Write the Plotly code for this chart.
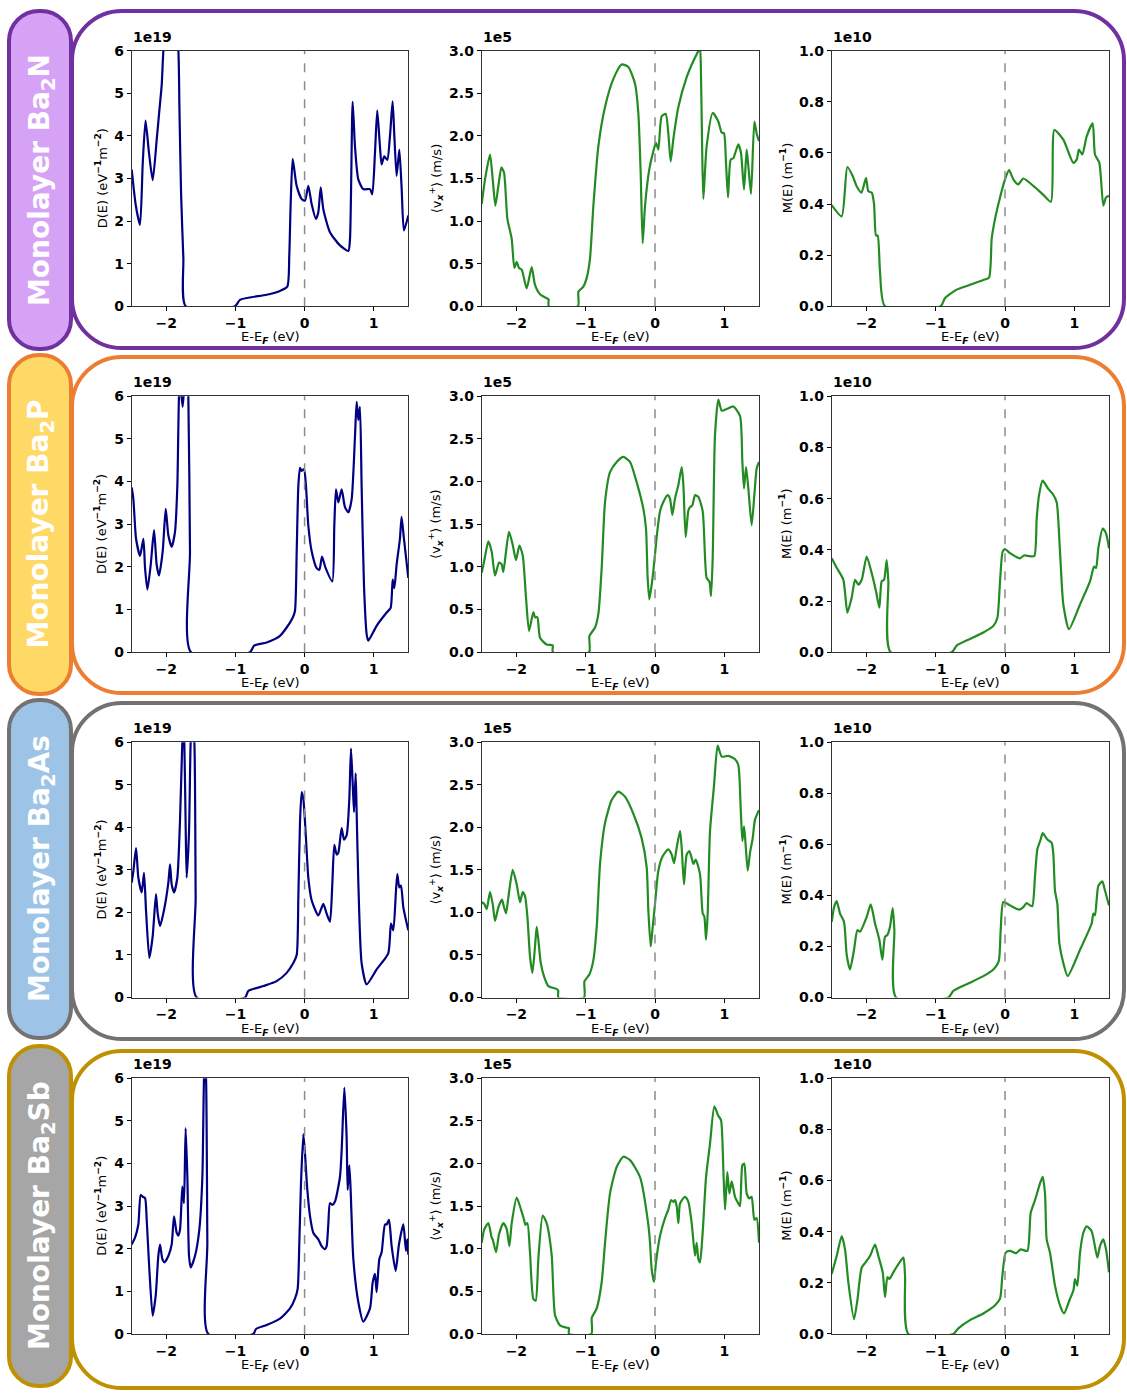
import plotly.graph_objects as go

W, H = 1127, 1399

# ---------------------------------------------------------------------------
# Data: (E - E_F [eV], value) pairs.
# DOS in units of 1e19 eV^-1 m^-2, <v_x^+> in 1e5 m/s, M(E) in 1e10 m^-1
# ---------------------------------------------------------------------------
materials = ["N", "P", "As", "Sb"]

dos_ba2n = [(-2.50, 3.21), (-2.44, 2.36), (-2.38, 1.91), (-2.34, 3.37), (-2.30, 4.36), (-2.25, 3.6),
            (-2.196, 2.96), (-2.139, 3.9), (-2.10, 4.6), (-2.066, 5.2), (-2.042, 6.0), (-1.93, 8.0),
            (-1.825, 6.0), (-1.81, 4.68), (-1.786, 2.66), (-1.753, 1.13), (-1.719, 0.0), (-1.006, 0.0),
            (-0.934, 0.15), (-0.549, 0.27), (-0.355, 0.36), (-0.25, 0.46), (-0.221, 1.2), (-0.202, 2.36),
            (-0.172, 3.46), (-0.115, 2.83), (-0.042, 2.52), (0.006, 2.48), (0.054, 2.83), (0.102, 2.4),
            (0.165, 2.05), (0.198, 2.2), (0.233, 2.79), (0.271, 2.28), (0.367, 1.74), (0.512, 1.43),
            (0.633, 1.3), (0.657, 1.59), (0.695, 4.8), (0.729, 3.75), (0.777, 2.98), (0.849, 2.75),
            (0.946, 2.75), (0.979, 2.63), (1.018, 3.6), (1.051, 4.6), (1.090, 3.75), (1.114, 3.33),
            (1.152, 3.52), (1.196, 3.44), (1.235, 4.0), (1.273, 4.81), (1.297, 4.05), (1.331, 3.06),
            (1.370, 3.68), (1.403, 2.8), (1.437, 1.78), (1.50, 2.13)]

vel_ba2n = [(-2.5, 1.2), (-2.452, 1.49), (-2.38, 1.78), (-2.341, 1.49), (-2.303, 1.18), (-2.26, 1.41),
            (-2.216, 1.63), (-2.178, 1.57), (-2.13, 1.03), (-2.067, 0.79), (-2.029, 0.45), (-1.995, 0.52),
            (-1.962, 0.45), (-1.923, 0.43), (-1.851, 0.21), (-1.779, 0.46), (-1.731, 0.25), (-1.659, 0.14),
            (-1.553, 0.09), (-1.535, 0.08), (-1.533, 0.0), (-1.111, 0.0), (-1.105, 0.17), (-1.034, 0.23),
            (-0.986, 0.33), (-0.938, 0.56), (-0.889, 1.18), (-0.817, 1.88), (-0.721, 2.34), (-0.601, 2.67),
            (-0.481, 2.84), (-0.385, 2.81), (-0.288, 2.61), (-0.24, 2.26), (-0.207, 1.57), (-0.178, 0.74),
            (-0.144, 1.18), (-0.082, 1.61), (-0.024, 1.82), (0.014, 1.92), (0.048, 1.84), (0.096, 2.23),
            (0.154, 2.26), (0.192, 2.03), (0.226, 1.70), (0.264, 1.96), (0.337, 2.34), (0.457, 2.69),
            (0.553, 2.88), (0.625, 3.0), (0.649, 3.04), (0.663, 2.73), (0.678, 1.96), (0.697, 1.26),
            (0.745, 1.88), (0.832, 2.27), (0.913, 2.17), (0.962, 2.04), (0.995, 2.03), (1.024, 1.68),
            (1.053, 1.28), (1.091, 1.72), (1.13, 1.74), (1.202, 1.90), (1.24, 1.80), (1.284, 1.37),
            (1.322, 1.84), (1.346, 1.65), (1.385, 1.32), (1.433, 2.17), (1.466, 2.03), (1.5, 1.94)]

modes_ba2n = [(-2.5, 0.396), (-2.356, 0.352), (-2.274, 0.545), (-2.197, 0.51), (-2.14, 0.47), (-2.07, 0.445),
              (-2.005, 0.503), (-1.971, 0.45), (-1.923, 0.445), (-1.889, 0.40), (-1.861, 0.277),
              (-1.837, 0.277), (-1.803, 0.135), (-1.731, 0.0), (-0.928, 0.0), (-0.865, 0.032),
              (-0.697, 0.065), (-0.505, 0.084), (-0.3125, 0.103), (-0.231, 0.112), (-0.192, 0.265),
              (-0.144, 0.342), (-0.072, 0.426), (0.0, 0.497), (0.058, 0.533), (0.120, 0.497),
              (0.192, 0.477), (0.264, 0.50), (0.409, 0.471), (0.553, 0.436), (0.663, 0.409), (0.712, 0.69),
              (0.841, 0.652), (0.986, 0.561), (1.034, 0.574), (1.067, 0.613), (1.115, 0.594),
              (1.178, 0.665), (1.264, 0.716), (1.298, 0.594), (1.361, 0.561), (1.418, 0.394),
              (1.457, 0.426), (1.5, 0.432)]

dos_ba2p = [(-2.5, 3.86), (-2.476, 3.59), (-2.437, 2.66), (-2.379, 2.26), (-2.331, 2.66), (-2.307, 1.97),
            (-2.273, 1.47), (-2.225, 2.05), (-2.177, 2.86), (-2.139, 2.05), (-2.105, 1.80), (-2.052, 2.36),
            (-2.008, 3.36), (-1.97, 2.74), (-1.922, 2.47), (-1.874, 2.82), (-1.84, 3.9), (-1.816, 6.0),
            (-1.80, 6.3), (-1.763, 5.75), (-1.738, 6.3), (-1.705, 6.8), (-1.681, 6.0), (-1.657, 2.36),
            (-1.642, 0.0), (-0.789, 0.0), (-0.731, 0.155), (-0.548, 0.23), (-0.355, 0.386), (-0.259, 0.58),
            (-0.172, 0.81), (-0.139, 0.965), (-0.114, 2.36), (-0.09, 3.9), (-0.066, 4.32), (-0.042, 4.25),
            (-0.008, 4.29), (0.02, 3.9), (0.054, 2.97), (0.103, 2.36), (0.175, 1.97), (0.214, 1.93),
            (0.252, 2.24), (0.305, 1.97), (0.401, 1.66), (0.43, 2.97), (0.454, 3.82), (0.488, 3.51),
            (0.536, 3.82), (0.584, 3.40), (0.633, 3.28), (0.681, 3.59), (0.729, 5.06), (0.753, 5.87),
            (0.777, 5.44), (0.801, 5.75), (0.825, 3.9), (0.859, 1.58), (0.898, 0.42), (0.922, 0.27),
            (1.042, 0.62), (1.187, 0.93), (1.245, 1.04), (1.274, 1.70), (1.298, 1.5), (1.331, 2.05),
            (1.379, 2.66), (1.403, 3.17), (1.437, 2.66), (1.5, 1.74)]

vel_ba2p = [(-2.5, 0.93), (-2.466, 1.06), (-2.404, 1.30), (-2.356, 1.18), (-2.308, 0.90), (-2.25, 1.05),
            (-2.212, 1.03), (-2.188, 0.94), (-2.149, 1.18), (-2.106, 1.41), (-2.053, 1.26), (-2.005, 1.08),
            (-1.957, 1.25), (-1.909, 1.14), (-1.861, 0.64), (-1.817, 0.25), (-1.755, 0.47), (-1.731, 0.41),
            (-1.697, 0.41), (-1.659, 0.17), (-1.563, 0.09), (-1.476, 0.08), (-1.474, 0.0), (-0.952, 0.0),
            (-0.946, 0.19), (-0.865, 0.29), (-0.817, 0.45), (-0.769, 0.99), (-0.721, 1.76), (-0.649, 2.11),
            (-0.553, 2.23), (-0.457, 2.29), (-0.361, 2.23), (-0.264, 1.99), (-0.168, 1.68), (-0.13, 1.45),
            (-0.106, 0.87), (-0.082, 0.62), (-0.048, 0.79), (-0.024, 0.95), (0.024, 1.35), (0.072, 1.65),
            (0.12, 1.76), (0.183, 1.84), (0.216, 1.80), (0.25, 1.61), (0.288, 1.80), (0.337, 1.96),
            (0.385, 2.17), (0.409, 1.96), (0.442, 1.35), (0.481, 1.66), (0.505, 1.70), (0.538, 1.72),
            (0.577, 1.84), (0.625, 1.82), (0.688, 1.65), (0.745, 0.87), (0.784, 0.83), (0.808, 0.66),
            (0.832, 1.10), (0.865, 2.54), (0.913, 2.96), (0.962, 2.83), (1.034, 2.85), (1.13, 2.88),
            (1.226, 2.77), (1.26, 2.23), (1.284, 1.92), (1.313, 2.17), (1.346, 1.92), (1.394, 1.49),
            (1.433, 1.84), (1.466, 2.15), (1.5, 2.23)]

modes_ba2p = [(-2.5, 0.367), (-2.428, 0.33), (-2.332, 0.283), (-2.274, 0.155), (-2.212, 0.213),
              (-2.163, 0.283), (-2.115, 0.264), (-2.067, 0.283), (-1.995, 0.374), (-1.923, 0.309),
              (-1.861, 0.238), (-1.813, 0.174), (-1.779, 0.277), (-1.745, 0.283), (-1.707, 0.36),
              (-1.683, 0.277), (-1.65, 0.0), (-0.769, 0.0), (-0.697, 0.026), (-0.505, 0.052),
              (-0.3125, 0.077), (-0.168, 0.103), (-0.11, 0.135), (-0.072, 0.277), (-0.034, 0.393),
              (0.0, 0.403), (0.072, 0.387), (0.216, 0.367), (0.274, 0.378), (0.361, 0.375), (0.423, 0.376),
              (0.457, 0.522), (0.49, 0.612), (0.543, 0.67), (0.625, 0.638), (0.6875, 0.619), (0.745, 0.586),
              (0.793, 0.393), (0.841, 0.187), (0.923, 0.09), (1.082, 0.187), (1.226, 0.277), (1.284, 0.335),
              (1.313, 0.329), (1.346, 0.406), (1.409, 0.483), (1.457, 0.464), (1.5, 0.406)]

dos_ba2as = [(-2.5, 2.70), (-2.476, 2.97), (-2.437, 3.51), (-2.404, 2.82), (-2.355, 2.47), (-2.322, 2.93),
             (-2.293, 2.05), (-2.245, 0.93), (-2.197, 1.43), (-2.149, 2.43), (-2.124, 1.97), (-2.09, 1.68),
             (-2.033, 2.05), (-1.97, 2.70), (-1.946, 3.13), (-1.922, 2.66), (-1.888, 2.47), (-1.84, 2.82),
             (-1.802, 4.13), (-1.768, 6.0), (-1.753, 6.4), (-1.739, 6.0), (-1.72, 4.05), (-1.705, 2.82),
             (-1.671, 3.9), (-1.647, 6.0), (-1.623, 6.5), (-1.594, 6.0), (-1.575, 2.36), (-1.56, 0.0),
             (-0.861, 0.0), (-0.813, 0.155), (-0.596, 0.27), (-0.404, 0.386), (-0.259, 0.58), (-0.163, 0.81),
             (-0.114, 1.0), (-0.09, 2.36), (-0.066, 4.13), (-0.042, 4.83), (-0.018, 4.67), (0.02, 3.75),
             (0.054, 2.82), (0.103, 2.28), (0.199, 1.93), (0.271, 2.20), (0.319, 1.97), (0.367, 1.78),
             (0.401, 2.66), (0.43, 3.59), (0.464, 3.36), (0.488, 3.40), (0.536, 3.98), (0.57, 3.71),
             (0.609, 3.82), (0.647, 4.67), (0.671, 5.85), (0.695, 5.06), (0.715, 4.36), (0.739, 5.27),
             (0.753, 4.36), (0.777, 2.74), (0.825, 0.81), (0.898, 0.31), (1.042, 0.66), (1.21, 1.04),
             (1.249, 1.74), (1.283, 1.58), (1.322, 2.51), (1.341, 2.90), (1.37, 2.59), (1.394, 2.63),
             (1.428, 2.12), (1.5, 1.58)]

vel_ba2as = [(-2.5, 1.12), (-2.462, 1.10), (-2.428, 1.04), (-2.38, 1.24), (-2.341, 1.10), (-2.308, 0.90),
             (-2.26, 1.06), (-2.207, 1.15), (-2.178, 1.06), (-2.149, 0.99), (-2.115, 1.18), (-2.053, 1.50),
             (-1.995, 1.33), (-1.947, 1.12), (-1.909, 1.24), (-1.875, 1.19), (-1.841, 0.95), (-1.803, 0.48),
             (-1.769, 0.29), (-1.731, 0.60), (-1.707, 0.83), (-1.683, 0.68), (-1.649, 0.41), (-1.601, 0.25),
             (-1.538, 0.135), (-1.418, 0.10), (-1.396, 0.08), (-1.394, 0.0), (-1.024, 0.0), (-1.018, 0.19),
             (-0.947, 0.27), (-0.889, 0.44), (-0.841, 0.83), (-0.793, 1.57), (-0.721, 2.05), (-0.625, 2.32),
             (-0.529, 2.42), (-0.433, 2.36), (-0.3125, 2.16), (-0.192, 1.87), (-0.12, 1.53), (-0.096, 1.02),
             (-0.0625, 0.60), (-0.038, 0.79), (0.0, 1.10), (0.048, 1.49), (0.11, 1.66), (0.192, 1.74),
             (0.24, 1.68), (0.274, 1.58), (0.3125, 1.76), (0.361, 1.96), (0.385, 1.76), (0.418, 1.33),
             (0.457, 1.68), (0.495, 1.72), (0.529, 1.64), (0.553, 1.57), (0.587, 1.62), (0.649, 1.45),
             (0.6875, 0.99), (0.712, 0.95), (0.736, 0.68), (0.76, 0.99), (0.793, 1.95), (0.851, 2.49),
             (0.904, 2.96), (0.962, 2.83), (1.058, 2.84), (1.154, 2.80), (1.202, 2.73), (1.236, 2.22),
             (1.26, 1.84), (1.284, 2.01), (1.303, 1.84), (1.337, 1.49), (1.37, 1.70), (1.409, 1.87),
             (1.442, 2.09), (1.5, 2.20)]

modes_ba2as = [(-2.5, 0.296), (-2.466, 0.354), (-2.428, 0.378), (-2.38, 0.329), (-2.322, 0.296),
               (-2.284, 0.168), (-2.236, 0.11), (-2.178, 0.187), (-2.13, 0.264), (-2.091, 0.258),
               (-1.995, 0.316), (-1.937, 0.365), (-1.875, 0.29), (-1.813, 0.226), (-1.769, 0.148),
               (-1.731, 0.238), (-1.697, 0.245), (-1.659, 0.277), (-1.62, 0.35), (-1.596, 0.264),
               (-1.572, 0.0), (-0.817, 0.0), (-0.745, 0.026), (-0.553, 0.052), (-0.3125, 0.084),
               (-0.168, 0.11), (-0.091, 0.142), (-0.0625, 0.264), (-0.024, 0.374), (0.072, 0.361),
               (0.207, 0.344), (0.264, 0.354), (0.3125, 0.37), (0.361, 0.361), (0.394, 0.358),
               (0.433, 0.477), (0.466, 0.58), (0.514, 0.619), (0.543, 0.644), (0.611, 0.619),
               (0.673, 0.606), (0.697, 0.561), (0.721, 0.419), (0.755, 0.367), (0.784, 0.213),
               (0.841, 0.135), (0.904, 0.084), (1.082, 0.187), (1.25, 0.29), (1.274, 0.329), (1.298, 0.322),
               (1.346, 0.438), (1.404, 0.455), (1.442, 0.419), (1.5, 0.361)]

dos_ba2sb = [(-2.5, 2.10), (-2.452, 2.26), (-2.404, 2.57), (-2.37, 3.26), (-2.341, 3.22), (-2.307, 3.19),
             (-2.283, 2.68), (-2.245, 1.52), (-2.197, 0.43), (-2.153, 0.90), (-2.115, 1.83), (-2.09, 2.10),
             (-2.057, 1.76), (-2.028, 1.68), (-1.97, 1.83), (-1.922, 2.10), (-1.888, 2.76), (-1.849, 2.37),
             (-1.826, 2.31), (-1.801, 2.45), (-1.768, 3.46), (-1.744, 3.07), (-1.72, 4.83), (-1.695, 3.69),
             (-1.671, 1.83), (-1.647, 1.56), (-1.585, 1.83), (-1.522, 2.45), (-1.478, 3.69), (-1.454, 6.0),
             (-1.44, 6.3), (-1.425, 6.0), (-1.406, 2.14), (-1.392, 0.0), (-0.741, 0.0), (-0.702, 0.116),
             (-0.548, 0.21), (-0.355, 0.36), (-0.211, 0.60), (-0.139, 0.83), (-0.1, 1.06), (-0.076, 2.14),
             (-0.052, 3.53), (-0.018, 4.69), (0.006, 4.23), (0.04, 3.38), (0.079, 2.76), (0.127, 2.37),
             (0.199, 2.22), (0.247, 2.06), (0.295, 1.99), (0.319, 2.06), (0.343, 2.57), (0.367, 3.07),
             (0.401, 3.03), (0.44, 3.11), (0.512, 3.69), (0.536, 4.3), (0.575, 5.78), (0.608, 4.62),
             (0.623, 3.38), (0.647, 3.96), (0.666, 3.38), (0.705, 1.76), (0.777, 0.75), (0.849, 0.29),
             (0.946, 0.60), (0.985, 1.21), (1.018, 1.41), (1.042, 0.98), (1.081, 1.76), (1.114, 1.91),
             (1.163, 2.57), (1.187, 2.57), (1.221, 2.68), (1.259, 2.06), (1.317, 1.48), (1.365, 2.10),
             (1.428, 2.57), (1.466, 1.95), (1.486, 2.22), (1.5, 1.86)]

vel_ba2sb = [(-2.5, 1.07), (-2.462, 1.23), (-2.404, 1.30), (-2.356, 1.13), (-2.341, 1.11), (-2.293, 0.96),
             (-2.25, 1.17), (-2.188, 1.30), (-2.139, 1.23), (-2.101, 1.03), (-2.067, 1.30), (-1.995, 1.60),
             (-1.933, 1.46), (-1.889, 1.34), (-1.87, 1.28), (-1.841, 1.30), (-1.803, 0.95), (-1.755, 0.41),
             (-1.721, 0.39), (-1.683, 0.88), (-1.62, 1.39), (-1.563, 1.30), (-1.49, 0.92), (-1.442, 0.22),
             (-1.37, 0.10), (-1.25, 0.07), (-1.242, 0.07), (-1.24, 0.0), (-0.918, 0.0), (-0.912, 0.19),
             (-0.841, 0.30), (-0.769, 0.61), (-0.721, 1.07), (-0.649, 1.65), (-0.553, 1.96), (-0.457, 2.08),
             (-0.361, 2.04), (-0.216, 1.84), (-0.096, 1.28), (-0.072, 1.07), (-0.048, 0.76), (-0.014, 0.61),
             (0.014, 0.84), (0.072, 1.15), (0.144, 1.36), (0.192, 1.46), (0.231, 1.57), (0.264, 1.55),
             (0.288, 1.57), (0.3125, 1.50), (0.337, 1.30), (0.361, 1.53), (0.433, 1.61), (0.481, 1.55),
             (0.529, 1.30), (0.577, 0.92), (0.601, 1.07), (0.625, 0.88), (0.649, 0.84), (0.6875, 1.19),
             (0.736, 1.84), (0.793, 2.23), (0.856, 2.67), (0.913, 2.56), (0.952, 2.51), (0.986, 1.92),
             (1.01, 1.46), (1.043, 1.90), (1.072, 1.65), (1.106, 1.79), (1.154, 1.61), (1.202, 1.53),
             (1.226, 1.50), (1.26, 1.98), (1.288, 2.00), (1.322, 1.65), (1.361, 1.59), (1.394, 1.61),
             (1.433, 1.34), (1.466, 1.36), (1.5, 1.07)]

modes_ba2sb = [(-2.5, 0.235), (-2.428, 0.305), (-2.356, 0.383), (-2.308, 0.331), (-2.26, 0.202),
               (-2.178, 0.058), (-2.13, 0.131), (-2.067, 0.26), (-1.995, 0.286), (-1.947, 0.305),
               (-1.875, 0.35), (-1.827, 0.305), (-1.764, 0.241), (-1.731, 0.144), (-1.697, 0.222),
               (-1.668, 0.215), (-1.611, 0.241), (-1.538, 0.273), (-1.466, 0.299), (-1.442, 0.228),
               (-1.394, 0.0), (-0.745, 0.0), (-0.673, 0.022), (-0.505, 0.054), (-0.3125, 0.08),
               (-0.144, 0.112), (-0.072, 0.138), (-0.038, 0.228), (0.01, 0.318), (0.072, 0.325),
               (0.159, 0.316), (0.226, 0.331), (0.322, 0.325), (0.37, 0.473), (0.433, 0.524),
               (0.505, 0.589), (0.543, 0.615), (0.577, 0.55), (0.601, 0.37), (0.649, 0.318),
               (0.721, 0.189), (0.793, 0.112), (0.851, 0.08), (0.928, 0.131), (0.986, 0.17), (1.01, 0.215),
               (1.043, 0.189), (1.082, 0.318), (1.13, 0.396), (1.178, 0.421), (1.25, 0.402),
               (1.332, 0.299), (1.37, 0.344), (1.418, 0.37), (1.457, 0.331), (1.5, 0.241)]

panels = [
    [dos_ba2n, vel_ba2n, modes_ba2n],
    [dos_ba2p, vel_ba2p, modes_ba2p],
    [dos_ba2as, vel_ba2as, modes_ba2as],
    [dos_ba2sb, vel_ba2sb, modes_ba2sb],
]

# per-column axis settings
y_ranges = [[0, 6], [0, 3], [0, 1]]
y_dticks = [1, 0.5, 0.2]
y_formats = ["d", ".1f", ".1f"]
y_offsets = ["1e19", "1e5", "1e10"]
y_titles = [
    "D(E) (eV<sup><b>−1</b></sup>m<sup><b>−2</b></sup>)",
    "⟨v<sub><b><i>x</i></b></sub><sup>+</sup>⟩ (m/s)",
    "M(E) (m<sup><b>−1</b></sup>)",
]
x_title = "E-E<sub><b><i>F</i></b></sub> (eV)"
line_colors = ["navy", "forestgreen", "forestgreen"]

# row styling: frame colour, label-pill fill
frame_colors = ["#7030A0", "#ED7D31", "#767171", "#BF9000"]
pill_fills = ["#D6A2F6", "#FFD966", "#9DC3E6", "#A6A6A6"]

# pixel geometry of the plotting areas
col_px = [(131.7, 408.3), (481.7, 759.0), (831.7, 1109.0)]
row_px = [(43.3, 301.7), (392.7, 651.7), (742.7, 1001.0), (1082.7, 1341.3)]
box_px = [(3, 344), (353, 693), (703, 1043), (1055, 1396)]
pill_px = [(3, 345), (351, 694), (700, 1042), (1050, 1394)]


def fx(px):
    return px / W


def fy(py):
    return 1 - py / H


def rounded_rect(x0, y0, x1, y1, r):
    k = 0.5523 * r
    pts = []
    pts.append(f"M {fx(x0 + r)},{fy(y0)}")
    pts.append(f"L {fx(x1 - r)},{fy(y0)}")
    pts.append(f"C {fx(x1 - r + k)},{fy(y0)} {fx(x1)},{fy(y0 + r - k)} {fx(x1)},{fy(y0 + r)}")
    pts.append(f"L {fx(x1)},{fy(y1 - r)}")
    pts.append(f"C {fx(x1)},{fy(y1 - r + k)} {fx(x1 - r + k)},{fy(y1)} {fx(x1 - r)},{fy(y1)}")
    pts.append(f"L {fx(x0 + r)},{fy(y1)}")
    pts.append(f"C {fx(x0 + r - k)},{fy(y1)} {fx(x0)},{fy(y1 - r + k)} {fx(x0)},{fy(y1 - r)}")
    pts.append(f"L {fx(x0)},{fy(y0 + r)}")
    pts.append(f"C {fx(x0)},{fy(y0 + r - k)} {fx(x0 + r - k)},{fy(y0)} {fx(x0 + r)},{fy(y0)}")
    pts.append("Z")
    return " ".join(pts)


def axis_ids(k):
    suffix = "" if k == 1 else str(k)
    return f"xaxis{suffix}", f"yaxis{suffix}", f"x{suffix}", f"y{suffix}"


fig = go.Figure()
shapes = []
annotations = []
layout_axes = {}

# frames and label pills (drawn first so the plots sit on top)
for r in range(4):
    by0, by1 = box_px[r]
    shapes.append(dict(type="path", xref="paper", yref="paper", layer="below",
                       path=rounded_rect(72, by0, 1124, by1, 50),
                       line=dict(color=frame_colors[r], width=4), fillcolor="white"))
    py0, py1 = pill_px[r]
    shapes.append(dict(type="path", xref="paper", yref="paper", layer="below",
                       path=rounded_rect(9, py0, 71, py1, 30),
                       line=dict(color=frame_colors[r], width=4), fillcolor=pill_fills[r]))
    annotations.append(dict(xref="paper", yref="paper", x=fx(41), y=fy((py0 + py1) / 2),
                            xanchor="center", yanchor="middle",
                            text=f"<b>Monolayer Ba<sub>2</sub>{materials[r]}</b>",
                            textangle=-90, showarrow=False,
                            font=dict(family="DejaVu Sans", size=28, color="white")))

tick_font = dict(family="DejaVu Sans", size=14, color="black", weight="bold")

for r in range(4):
    ry0, ry1 = row_px[r]
    for c in range(3):
        k = r * 3 + c + 1
        xa, ya, xr, yr = axis_ids(k)
        cx0, cx1 = col_px[c]
        layout_axes[xa] = dict(domain=[fx(cx0), fx(cx1)], range=[-2.5, 1.5], anchor=yr,
                               tickvals=[-2, -1, 0, 1], ticks="outside", ticklen=4, tickwidth=1,
                               tickcolor="black", showline=True, mirror=True, linecolor="#333333",
                               linewidth=1, showgrid=False, zeroline=False, tickfont=tick_font)
        layout_axes[ya] = dict(domain=[fy(ry1), fy(ry0)], range=y_ranges[c], anchor=xr,
                               dtick=y_dticks[c], tick0=0, tickformat=y_formats[c],
                               ticks="outside", ticklen=4, tickwidth=1, tickcolor="black",
                               showline=True, mirror=True, linecolor="#333333", linewidth=1,
                               showgrid=False, zeroline=False, tickfont=tick_font)

        energies = [p[0] for p in panels[r][c]]
        values = [p[1] for p in panels[r][c]]
        fig.add_trace(go.Scatter(x=energies, y=values, xaxis=xr, yaxis=yr, mode="lines",
                                 line=dict(color=line_colors[c], width=2.2, shape="spline",
                                           smoothing=0.6),
                                 showlegend=False, hoverinfo="skip"))

        # Fermi level marker
        shapes.append(dict(type="line", xref=xr, yref=f"{yr} domain", x0=0, x1=0, y0=0, y1=1,
                           line=dict(color="#8c8c8c", width=1.5, dash="dash")))

        # scale factor above the axes
        annotations.append(dict(xref="paper", yref="paper", x=fx(cx0 - 1), y=fy(ry0 - 4),
                                xanchor="left", yanchor="bottom", showarrow=False,
                                text=f"<b>{y_offsets[c]}</b>",
                                font=dict(family="DejaVu Sans", size=14, color="black")))
        # axis titles
        y_title_off = 31 if c == 0 else 46
        annotations.append(dict(xref="paper", yref="paper", x=fx(cx0 - y_title_off),
                                y=fy((ry0 + ry1) / 2), xanchor="center", yanchor="middle",
                                textangle=-90, showarrow=False, text=y_titles[c],
                                font=dict(family="DejaVu Sans", size=13, color="black")))
        annotations.append(dict(xref="paper", yref="paper", x=fx((cx0 + cx1) / 2),
                                y=fy(ry1 + 32), xanchor="center", yanchor="middle",
                                showarrow=False, text=x_title,
                                font=dict(family="DejaVu Sans", size=13, color="black")))

fig.update_layout(width=W, height=H, margin=dict(l=0, r=0, t=0, b=0),
                  paper_bgcolor="white", plot_bgcolor="rgba(0,0,0,0)",
                  shapes=shapes, annotations=annotations, **layout_axes)

fig.write_html("out.html")
